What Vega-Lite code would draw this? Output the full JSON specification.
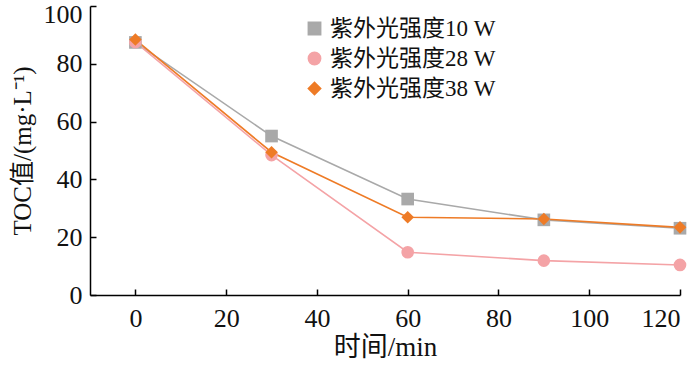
{
  "$schema": "https://vega.github.io/schema/vega-lite/v6.json",
  "width": 590,
  "height": 289,
  "autosize": "none",
  "padding": {"left": 90, "top": 6, "right": 20, "bottom": 74},
  "config": {
    "view": {"stroke": null},
    "font": "Liberation Serif, Noto Sans CJK SC",
    "axis": {
      "grid": false,
      "domainColor": "#000000",
      "domainWidth": 1.5,
      "tickColor": "#000000",
      "tickWidth": 1.5,
      "tickSize": -6,
      "titleFont": "Liberation Serif, Noto Sans CJK SC",
      "titleFontSize": 25,
      "titleFontWeight": "normal",
      "titleColor": "#111111"
    },
    "legend": {
      "labelFont": "Liberation Serif, Noto Sans CJK SC",
      "labelFontSize": 23,
      "labelColor": "#111111",
      "labelLimit": 400
    }
  },
  "data": {
    "values": [
      {"t": 0, "toc": 87.4, "s": "紫外光强度10 W"},
      {"t": 30, "toc": 55.0, "s": "紫外光强度10 W"},
      {"t": 60, "toc": 33.2, "s": "紫外光强度10 W"},
      {"t": 90, "toc": 26.0, "s": "紫外光强度10 W"},
      {"t": 120, "toc": 23.1, "s": "紫外光强度10 W"},
      {"t": 0, "toc": 87.5, "s": "紫外光强度28 W"},
      {"t": 30, "toc": 48.4, "s": "紫外光强度28 W"},
      {"t": 60, "toc": 14.8, "s": "紫外光强度28 W"},
      {"t": 90, "toc": 11.9, "s": "紫外光强度28 W"},
      {"t": 120, "toc": 10.4, "s": "紫外光强度28 W"},
      {"t": 0, "toc": 88.4, "s": "紫外光强度38 W"},
      {"t": 30, "toc": 49.4, "s": "紫外光强度38 W"},
      {"t": 60, "toc": 26.9, "s": "紫外光强度38 W"},
      {"t": 90, "toc": 26.3, "s": "紫外光强度38 W"},
      {"t": 120, "toc": 23.4, "s": "紫外光强度38 W"}
    ]
  },
  "encoding": {
    "x": {
      "field": "t", "type": "quantitative",
      "scale": {"domain": [-10, 120], "nice": false, "zero": false},
      "axis": {
        "values": [0, 20, 40, 60, 80, 100, 120],
        "title": "时间/min",
        "titleFontSize": 27,
        "labelFont": "Liberation Serif",
        "labelFontSize": 26,
        "labelColor": "#111111",
        "labelPadding": 16,
        "titlePadding": 3
      }
    },
    "y": {
      "field": "toc", "type": "quantitative",
      "scale": {"domain": [0, 100], "nice": false},
      "axis": {
        "values": [0, 20, 40, 60, 80, 100],
        "title": "TOC值/(mg·L⁻¹)",
        "labelFont": "Liberation Serif",
        "labelFontSize": 26,
        "labelColor": "#111111",
        "labelPadding": 14,
        "titlePadding": 8,
        "labelOffset": {"condition": {"test": "datum.value == 100", "value": 8}, "value": 0}
      }
    },
    "color": {
      "field": "s", "type": "nominal",
      "scale": {"domain": ["紫外光强度10 W", "紫外光强度28 W", "紫外光强度38 W"], "range": ["#a9a9a9", "#f4a3a6", "#ee7b26"]},
      "legend": {
        "title": null,
        "orient": "none",
        "legendX": 213,
        "legendY": 11,
        "symbolSize": 150,
        "symbolOpacity": 1,
        "rowPadding": 6,
        "labelOffset": 4,
        "labelLimit": 400,
        "padding": 0
      }
    }
  },
  "layer": [
    {
      "mark": {"type": "line"},
      "encoding": {
        "strokeWidth": {
          "field": "s", "type": "nominal",
          "scale": {"domain": ["紫外光强度10 W", "紫外光强度28 W", "紫外光强度38 W"], "range": [1.6, 1.6, 2.2]},
          "legend": null
        }
      }
    },
    {
      "mark": {"type": "point", "filled": true, "opacity": 1},
      "encoding": {
        "shape": {
          "field": "s", "type": "nominal",
          "scale": {"domain": ["紫外光强度10 W", "紫外光强度28 W", "紫外光强度38 W"], "range": ["square", "circle", "diamond"]},
          "legend": {
            "title": null,
            "orient": "none",
            "legendX": 213,
            "legendY": 11,
            "symbolSize": 150,
            "symbolOpacity": 1,
            "rowPadding": 6,
            "labelOffset": 4,
            "labelLimit": 400,
            "padding": 0
          }
        },
        "size": {"value": 160}
      }
    }
  ]
}
